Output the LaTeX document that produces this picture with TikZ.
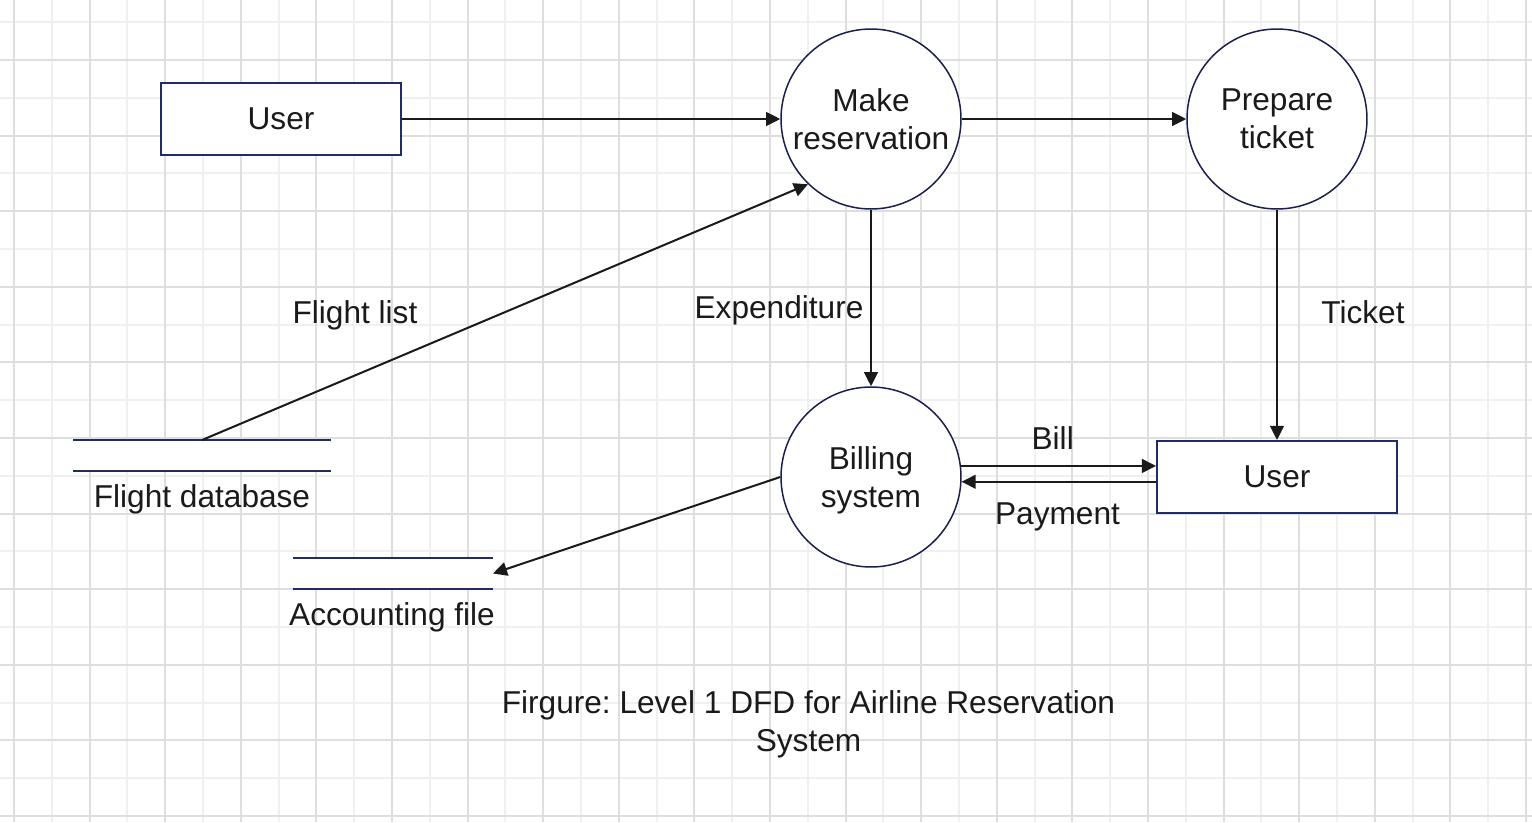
\documentclass[tikz,border=0pt]{standalone}
\usepackage{fontspec}
\setmainfont{Liberation Sans}
\usetikzlibrary{arrows.meta,calc}
\definecolor{boxnavy}{RGB}{31,45,100}
\definecolor{ringnavy}{RGB}{26,31,77}
\definecolor{flowblack}{RGB}{26,26,26}
\definecolor{griddark}{RGB}{222,222,222}
\definecolor{gridlight}{RGB}{240,240,240}
\tikzset{>={Triangle[width=7.8pt,length=8pt]}}

\begin{document}
\frenchspacing
\begin{tikzpicture}[x=0.02cm, y=-0.02cm,
  every node/.style={text=flowblack, font=\fontsize{18}{21.6}\selectfont},
  entity/.style={draw=boxnavy, line width=1.14pt, fill=white, minimum width=4.8cm, minimum height=1.44cm},
  process/.style={circle, draw=ringnavy, line width=0.85pt, fill=white, minimum size=3.6cm, align=center, text depth=0pt, inner sep=0pt},
  store/.style={fill=white, inner sep=0pt, outer sep=0pt, minimum width=#1, minimum height=0.62cm},
  storeline/.style={draw=boxnavy, line width=1.14pt},
  flow/.style={->, draw=flowblack, line width=1.14pt},
  gridline/.style={line width=1.14pt},
  lbl/.style={anchor=base}]

  \newcommand\GS{37.8}

  \useasboundingbox (0,0) rectangle (1532,822);
  \fill[white] (0,0) rectangle (1532,822);

  %% grid
  \foreach \k [evaluate=\k as \gx using round(14+\k*\GS)] in {1,3,...,39}
    \draw[gridline, gridlight] (\gx,0) -- (\gx,822);
  \foreach \k [evaluate=\k as \gy using round(60+\k*\GS)] in {-1,1,...,19}
    \draw[gridline, gridlight] (0,\gy) -- (1532,\gy);
  \foreach \k [evaluate=\k as \gx using round(14+\k*\GS)] in {0,2,...,40}
    \draw[gridline, griddark] (\gx,0) -- (\gx,822);
  \foreach \k [evaluate=\k as \gy using round(60+\k*\GS)] in {0,2,...,20}
    \draw[gridline, griddark] (0,\gy) -- (1532,\gy);

  %% entities and processes
  \node[entity] (ul) at (281,119) {User};
  \node[process] (mr) at (871,119) {Make\\reservation};
  \node[process] (pt) at (1277,119) {Prepare\\ticket};
  \node[process] (bs) at (871,477) {Billing\\system};
  \node[entity] (ur) at (1277,477) {User};

  %% data stores
  \node[store=5.16cm] (fdb) at (202,455.5) {};
  \draw[storeline] (fdb.north west) -- (fdb.north east);
  \draw[storeline] (fdb.south west) -- (fdb.south east);
  \node[lbl] (fdbtxt) at (202,507) {Flight database};

  \node[store=4cm] (af) at (393,573.5) {};
  \draw[storeline] (af.north west) -- (af.north east);
  \draw[storeline] (af.south west) -- (af.south east);
  \node[lbl] (aftxt) at (392,625) {Accounting file};

  %% flows
  \draw[flow] (ul) -- (mr); % User->Make reservation
  \draw[flow] (mr) -- (pt); % Make reservation->Prepare ticket
  \draw[flow] (mr) -- (bs); % Make reservation->Billing
  \draw[flow] (pt) -- (ur); % Prepare ticket->User
  \draw[flow] (fdb.north) -- (mr.226); % Flight database->Make reservation
  \draw[flow] (bs.7.7) -- (bs.7.7 -| ur.west); % Billing->User
  \draw[flow] (bs.-3.8 -| ur.west) -- (bs.-3.8); % User->Billing
  \draw[flow] (bs.west) -- (af.east); % Billing->Accounting file

  \node[lbl] (flist) at (355,323) {Flight list};
  \node[lbl] (expend) at (779,318) {Expenditure};
  \node[lbl] (ticket) at (1363,323) {Ticket};
  \node[lbl] (bill) at (1052.7,449) {Bill};
  \node[lbl] (pay) at (1057.5,524) {Payment};

  %% caption
  \node[align=center, text depth=0pt] (caption) at (808.5,721) {Firgure: Level 1 DFD for Airline Reservation\\System};

\end{tikzpicture}
\end{document}
